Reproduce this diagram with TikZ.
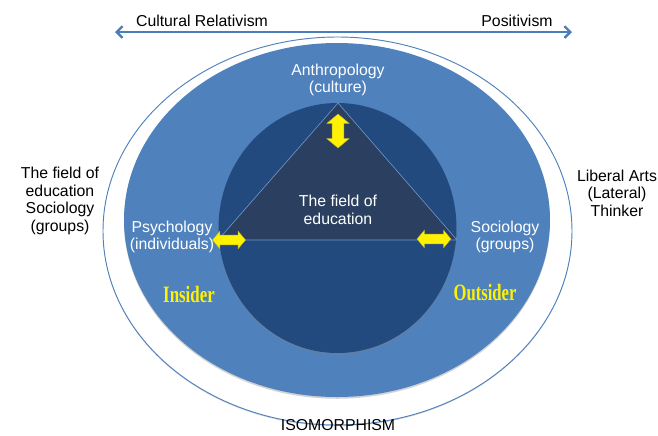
\documentclass[tikz,border=0pt]{standalone}
\usepackage{fontspec}
\setmainfont{Liberation Sans}
\newfontfamily\bannerfont{Liberation Serif}
\usetikzlibrary{arrows.meta,shapes.arrows,shadows}

\definecolor{ringblue}{RGB}{79,129,189}
\definecolor{coreblue}{RGB}{34,74,126}
\definecolor{fieldblue}{RGB}{43,64,96}
\definecolor{scaleblue}{RGB}{74,126,187}

\begin{document}
\begin{tikzpicture}[x=0.03cm, y=-0.03cm,
        label/.style={align=center, font=\fontsize{13.5}{15}\selectfont},
        inlabel/.style={label, text=white},
        swap/.style={double arrow, fill=yellow, draw=yellow!70!black, line width=0.3pt,
            minimum height=34*0.03cm, minimum width=0pt, inner sep=0.17cm,
            double arrow head extend=0.16cm, double arrow tip angle=100},
        stance/.style={text=yellow, font=\bannerfont\bfseries\fontsize{20}{22}\selectfont}]
    \useasboundingbox (0, 0) rectangle (658, 435);

    % scale of positions along the top
    \draw[scaleblue, line width=2pt, {Straight Barb[length=5pt,width=10pt]}-{Straight Barb[length=5pt,width=10pt]}] (115, 32) -- (572, 32);
    \node[label] (relativism) at (202, 21) {Cultural Relativism};
    \node[label] (positivism) at (517, 21) {Positivism};

    % rings
    \filldraw[fill=white, draw=ringblue, line width=0.8pt, drop shadow={shadow xshift=0pt, shadow yshift=-1pt, opacity=0.3}] (337.5, 231) ellipse (234.5 and 194);
    \fill[ringblue, drop shadow={shadow xshift=0pt, shadow yshift=-1.5pt, opacity=0.35}] (337, 220) ellipse (213 and 177);
    \fill[coreblue, drop shadow={shadow xshift=0pt, shadow yshift=-1.5pt, opacity=0.35}] (337.5, 228) ellipse (119 and 125);
    \filldraw[fill=fieldblue, draw=ringblue!80!white, line width=0.5pt] (338, 103) -- (457, 240) -- (218, 240) -- cycle;

    % labels on the rings
    \node[inlabel] (anthro) at (338, 80) {Anthropology\\(culture)};
    \node[inlabel] (field) at (338, 210) {The field of\\education};
    \node[inlabel] (psych) at (172, 237) {Psychology\\(individuals)};
    \node[inlabel] (socio) at (505, 237) {Sociology\\(groups)};

    \node[swap, rotate=90] (updown) at (338, 131) {};
    \node[swap, minimum height=33*0.03cm, inner sep=0.14cm, double arrow head extend=0.12cm] (leftright) at (229, 240) {};
    \node[swap, minimum height=34*0.03cm, inner sep=0.14cm, double arrow head extend=0.12cm] (rightleft) at (434, 239) {};

    \node[stance] (insider) at (189, 294) {\scalebox{0.72}[1]{Insider}};
    \node[stance] (outsider) at (485, 293) {\scalebox{0.71}[1]{Outsider}};

    % outside texts
    \node[label] (lefttext) at (60, 201) {The field of\\education\\Sociology\\(groups)};
    \node[label] (righttext) at (617, 193) {Liberal Arts\\(Lateral)\\Thinker};
    \node[label] (iso) at (338, 425) {ISOMORPHISM};
\end{tikzpicture}
\end{document}
